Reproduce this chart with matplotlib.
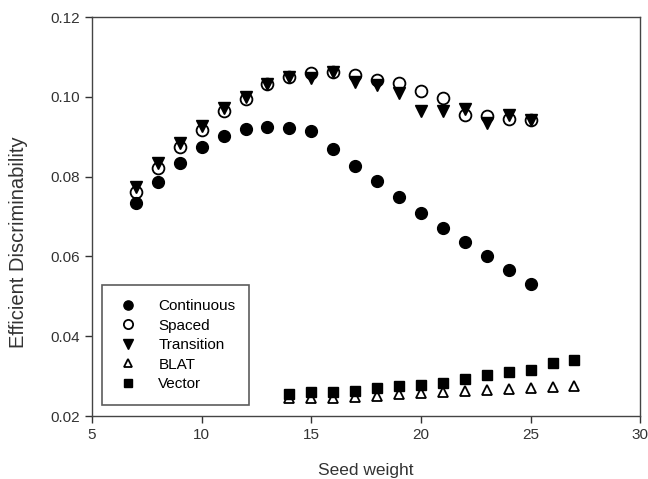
import numpy as np
import matplotlib
matplotlib.use("Agg")
import matplotlib.pyplot as plt

plt.rcParams['font.family'] = ['Liberation Sans', 'DejaVu Sans']

# Seed weights
x_main = np.arange(7, 26)
x_low = np.arange(14, 28)

continuous = [0.0733, 0.0787, 0.0835, 0.0873, 0.0902, 0.0919, 0.0924, 0.0922, 0.0915,
              0.0869, 0.0827, 0.0789, 0.0750, 0.0710, 0.0670, 0.0637, 0.0600, 0.0566, 0.0531]
spaced = [0.0762, 0.0821, 0.0873, 0.0917, 0.0964, 0.0994, 0.1031, 0.1050, 0.1059,
          0.1061, 0.1055, 0.1042, 0.1035, 0.1015, 0.0996, 0.0954, 0.0952, 0.0944, 0.0942]
transition = [0.0775, 0.0833, 0.0883, 0.0927, 0.0971, 0.1000, 0.1031, 0.1050, 0.1046,
              0.1061, 0.1038, 0.1030, 0.1010, 0.0964, 0.0964, 0.0969, 0.0934, 0.0954, 0.0942]
blat = [0.0244, 0.0244, 0.0245, 0.0247, 0.0250, 0.0255, 0.0257, 0.0261, 0.0263,
        0.0265, 0.0268, 0.0271, 0.0273, 0.0276]
vector = [0.0256, 0.0259, 0.0260, 0.0263, 0.0269, 0.0275, 0.0278, 0.0282, 0.0293,
          0.0303, 0.0310, 0.0315, 0.0332, 0.0340]

fig = plt.figure(figsize=(6.48, 4.79), dpi=100)
ax = fig.add_axes([0.142, 0.1315, 0.846, 0.833])

ms = 8.5
ax.plot(x_main, continuous, 'o', color='black', ms=ms, label='Continuous')
ax.plot(x_main, spaced, 'o', mfc='none', mec='black', mew=1.3, ms=ms, label='Spaced')
ax.plot(x_main, transition, 'v', color='black', ms=ms, label='Transition')
ax.plot(x_low, blat, '^', mfc='none', mec='black', mew=1.3, ms=ms - 1, label='BLAT')
ax.plot(x_low, vector, 's', color='black', ms=ms - 1.5, label='Vector')

ax.set_xlim(5, 30)
ax.set_ylim(0.02, 0.12)
ax.set_xticks([5, 10, 15, 20, 25, 30])
ax.set_yticks([0.02, 0.04, 0.06, 0.08, 0.10, 0.12])
ax.set_yticklabels(['0.02', '0.04', '0.06', '0.08', '0.10', '0.12'])
ax.tick_params(direction='out', length=5, width=1, labelsize=11, colors='#333333')
for s in ax.spines.values():
    s.set_color('#444444')
    s.set_linewidth(1)

ax.set_xlabel('Seed weight', fontsize=12.5, color='#333333', labelpad=15)
ax.set_ylabel('Efficient Discriminability', fontsize=14.5, color='#333333')
ax.yaxis.set_label_coords(-0.117, 0.436)

leg = ax.legend(loc='lower left', bbox_to_anchor=(0.018, 0.0276), borderaxespad=0,
                fontsize=11, frameon=True, fancybox=False, edgecolor='#333333',
                handletextpad=1.2, labelspacing=0.36, borderpad=0.9, handlelength=1.6,
                markerscale=0.78)
leg.get_frame().set_linewidth(1.2)

fig.savefig('out.png', dpi=100)
